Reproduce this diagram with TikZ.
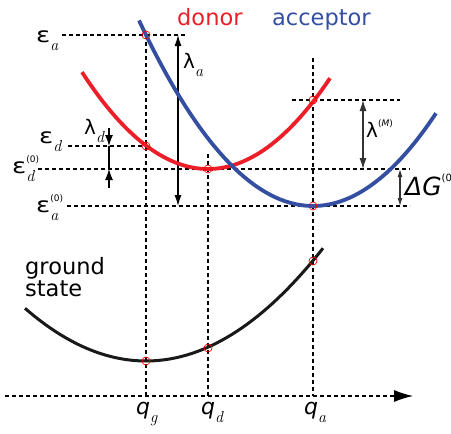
\documentclass[tikz,border=0pt]{standalone}
\usepackage{graphicx}
\usepackage{fontspec}
\setmainfont{DejaVu Sans}
\newfontfamily\lmfont{Latin Modern Roman}
\usetikzlibrary{arrows.meta}
\definecolor{donorred}{RGB}{236,30,40}
\definecolor{accblue}{RGB}{52,78,162}
\newcommand{\veps}{\scalebox{1.25}[1]{\fontsize{21}{21}\selectfont ε}}
\newcommand{\lsub}[1]{\raisebox{-8pt}{\fontsize{16}{16}\lmfont\itshape#1}}
\newcommand{\lsup}[1]{\raisebox{11pt}{\fontsize{9}{9}\selectfont#1}}
\newcommand{\lsupsub}[2]{\rlap{\lsup{#1}}\lsub{#2}}
\begin{document}
\begin{tikzpicture}[
  x=1pt,y=-1pt,every node/.style={font=\fontsize{20}{20}\selectfont,inner sep=0pt},
  guide/.style={line width=1.1pt,dash pattern=on 4pt off 3pt},
  measure/.style={line width=1.1pt,{Latex[length=11pt,width=7pt]}-{Latex[length=11pt,width=7pt]}},
  donorcurve/.style={donorred,line width=3.8pt},
  acccurve/.style={accblue,line width=3.8pt},
  groundcurve/.style={black!90,line width=3pt},
  hit/.style={circle,draw=red,line width=.7pt,minimum size=8pt}]
  \useasboundingbox (0,0) rectangle (451,434);

  % guide lines: levels and coordinates
  \coordinate (ea-l) at (62,35);   \coordinate (ea-r) at (185,35);
  \coordinate (ed-l) at (68,146);  \coordinate (ed-r) at (146,146);
  \coordinate (ed0-l) at (38,169); \coordinate (ed0-r) at (410,169);
  \coordinate (ea0-l) at (67,206); \coordinate (ea0-r) at (410,206);
  \coordinate (lm-l) at (292,100); \coordinate (lm-r) at (400,100);
  \coordinate (qg-top) at (146,35);  \coordinate (qg-bot) at (146,396);
  \coordinate (qd-top) at (208,154); \coordinate (qd-bot) at (208,396);
  \coordinate (qa-top) at (313,58);  \coordinate (qa-bot) at (313,396);
  \coordinate (ax-l) at (5,396);   \coordinate (ax-r) at (413,396);
  \draw[guide] (ea-l)--(ea-r) (ed-l)--(ed-r) (ed0-l)--(ed0-r) (ea0-l)--(ea0-r)
    (lm-l)--(lm-r) (qg-top)--(qg-bot) (qd-top)--(qd-bot) (qa-top)--(qa-bot);
  \draw[guide,-{Latex[length=19pt,width=12pt]}] (ax-l)--(ax-r);

  % energy arrows
  \coordinate (la-t) at (178,35);  \coordinate (la-b) at (178,206);
  \coordinate (ld-t) at (109,128); \coordinate (ld-1) at (109,146);
  \coordinate (ld-2) at (109,169); \coordinate (ld-b) at (109,188);
  \coordinate (lm-t) at (363,100); \coordinate (lm-b) at (363,169);
  \coordinate (dg-t) at (400,169); \coordinate (dg-b) at (400,206);
  \draw[measure] (la-t)--(la-b);
  \draw[line width=1.1pt,-{Latex[length=11pt,width=8pt]}] (ld-t)--(ld-1);
  \draw[line width=1.1pt,-{Latex[length=11pt,width=8pt]}] (ld-b)--(ld-2);
  \draw[line width=1.1pt] (ld-1)--(ld-2);
  \draw[measure,black!80] (lm-t)--(lm-b);
  \draw[measure,black!80,{Latex[length=8pt,width=5pt]}-{Latex[length=8pt,width=5pt]}] (dg-t)--(dg-b);

  % potential curves
  \draw[donorcurve] plot[domain=82:330,samples=60] (\x,{169-0.61*((\x-208)/10)^2});
  \draw[acccurve] plot[domain=139:436,samples=60] (\x,{206-0.613*((\x-313)/10)^2});
  \draw[groundcurve] plot[domain=25:323,samples=60] (\x,{361-0.36*((\x-146)/10)^2});

  \node[hit] (p-ea) at (146,35) {};
  \node[hit] (p-ed) at (146,146) {};
  \node[hit] (p-ed0) at (208,169) {};
  \node[hit] (p-lm) at (313,100) {};
  \node[hit] (p-ea0) at (313,206) {};
  \node[hit] (p-ga) at (313,261) {};
  \node[hit] (p-gd) at (208,348) {};
  \node[hit] (p-gg) at (146,361) {};

  % labels
  \node[anchor=base west,text=donorred,font=\fontsize{22.5}{22.5}\selectfont] (donor) at (177,25) {donor};
  \node[anchor=base west,text=accblue,font=\fontsize{22.5}{22.5}\selectfont] (acceptor) at (272,25) {acceptor};
  \node[anchor=north west,align=left,font=\fontsize{22.5}{22}\selectfont] (ground) at (25,257) {ground\\state};
  \node[anchor=base west] (t-ea) at (36,42) {\veps\lsub{a}};
  \node[anchor=base west] (t-ed) at (39,143) {\veps\lsub{d}};
  \node[anchor=base west] (t-ed0) at (12,173) {\veps\lsupsub{(0)}{d}};
  \node[anchor=base west] (t-ea0) at (36,212) {\veps\lsupsub{(0)}{a}};
  \node[anchor=base west] (t-la) at (183,68) {λ\lsub{a}};
  \node[anchor=base west] (t-ld) at (84,134) {λ\lsub{d}};
  \node[anchor=base west] (t-lm) at (366,137) {λ\lsup{(\textit{M})}};
  \node[anchor=base west,font=\fontsize{25}{25}\selectfont] (t-dg) at (405,195)
    {\textit{ΔG}\raisebox{14pt}{\fontsize{10}{10}\selectfont(0)}};
  \node[anchor=base west,font=\fontsize{22}{22}\selectfont] (t-qg) at (136,414) {\textit{q}\lsub{g}};
  \node[anchor=base west,font=\fontsize{22}{22}\selectfont] (t-qd) at (201,414) {\textit{q}\lsub{d}};
  \node[anchor=base west,font=\fontsize{22}{22}\selectfont] (t-qa) at (304,414) {\textit{q}\lsub{a}};
\end{tikzpicture}
\end{document}
